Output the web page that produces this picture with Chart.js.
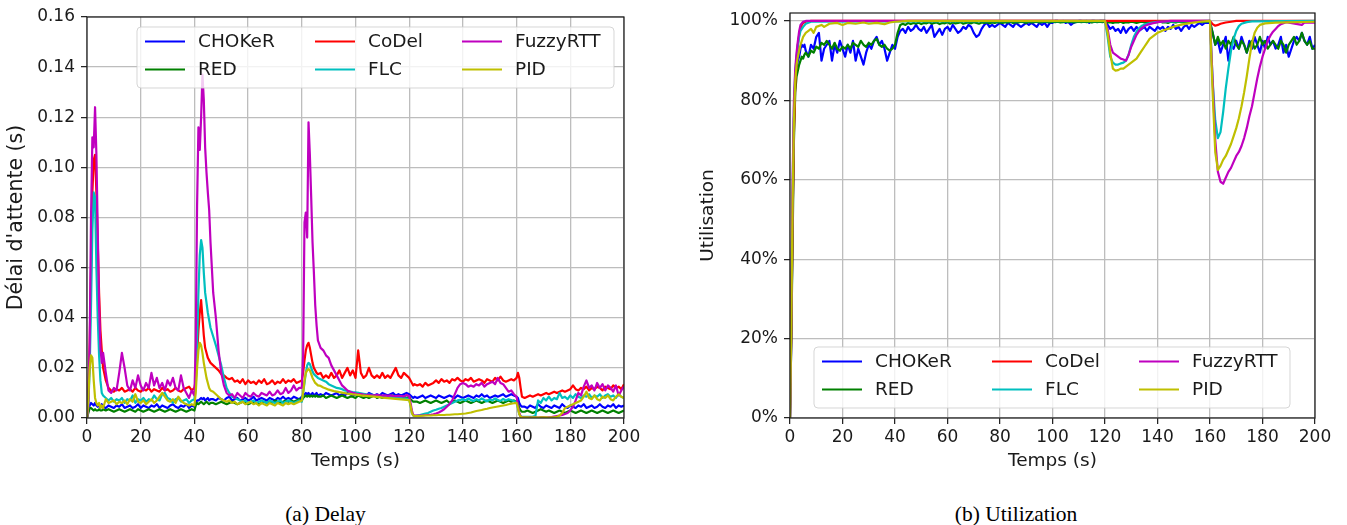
<!DOCTYPE html>
<html><head><meta charset="utf-8">
<script src="https://cdn.jsdelivr.net/npm/chart.js@4.4.0/dist/chart.umd.min.js"></script>
<style>
html,body{margin:0;padding:0;background:#fff;}
#wrap{position:relative;width:1347px;height:525px;overflow:hidden;background:#fff;}
canvas{position:absolute;}
#c1{left:0;top:0;} #c2{left:690px;top:-10px;}
.cap{position:absolute;top:504px;font-family:'Liberation Serif','Times New Roman',serif;font-size:21.5px;line-height:21px;color:#000;white-space:nowrap;text-align:center;width:300px;}
</style></head><body>
<div id="wrap">
<canvas id="c1" width="680" height="480"></canvas>
<canvas id="c2" width="657" height="490"></canvas>
<div class="cap" style="left:175.5px">(a) Delay</div>
<div class="cap" style="left:866px">(b) Utilization</div>
</div>
<script>
// ---------- shared ----------
const seriesNames = ['CHOKeR','RED','CoDel','FLC','FuzzyRTT','PID'];
const seriesColors = ['#0000ff','#008000','#ff0000','#00bfbf','#bf00bf','#bfbf00'];
const xTicks = [0,20,40,60,80,100,120,140,160,180,200];
const xTickLabels = ['0','20','40','60','80','100','120','140','160','180','200'];
const delayYTicks = [0,0.02,0.04,0.06,0.08,0.10,0.12,0.14,0.16];
const delayYLabels = ['0.00','0.02','0.04','0.06','0.08','0.10','0.12','0.14','0.16'];
const utilYTicks = [0,20,40,60,80,100];
const utilYLabels = ['0%','20%','40%','60%','80%','100%'];

// ---------- delay (s) ----------
const tDelay = [0,0.5,1,1.5,2,2.5,3,3.5,4,4.5,5,5.5,6,
7,8,9,10,11,12,13,14,15,16,17,18,19,20,21,22,23,24,25,26,27,28,29,30,31,32,33,34,35,36,37,38,39,40,
40.5,41,41.5,42,42.5,43,43.5,44,44.5,45,45.5,46,
47,48,49,50,51,52,53,54,55,56,57,58,59,60,61,62,63,64,65,66,67,68,69,70,71,72,73,74,75,76,77,78,79,80,
80.5,81,81.5,82,82.5,83,83.5,84,84.5,85,85.5,86,
87,88,89,90,91,92,93,94,95,96,97,98,99,100,101,102,103,104,105,106,107,108,109,110,111,112,113,114,115,116,117,118,119,120,
120.5,121,121.5,122,
123,124,125,126,127,128,129,130,131,132,133,134,135,136,137,138,139,140,141,142,143,144,145,146,147,148,149,150,151,152,153,154,155,156,157,158,159,160,
160.5,161,161.5,162,
163,164,165,166,167,168,169,170,171,172,173,174,175,176,177,178,179,180,181,182,183,184,185,186,187,188,189,190,191,192,193,194,195,196,197,198,199,200];

const delayCHOKeR = [0,0.003,0.005,0.006,0.0055,0.005,0.006,0.005,0.0045,0.005,0.004,0.0055,0.0045,
0.004,0.005,0.0045,0.004,0.005,0.0045,0.0055,0.004,0.0045,0.005,0.004,0.0045,0.0055,0.004,0.005,0.0045,0.004,0.005,0.0045,0.0055,0.004,0.005,0.0045,0.004,0.005,0.0055,0.0045,0.004,0.005,0.0045,0.0055,0.004,0.005,0.0045,
0.006,0.007,0.007,0.0075,0.008,0.0075,0.008,0.007,0.0075,0.008,0.007,0.0075,
0.0075,0.007,0.008,0.0075,0.007,0.008,0.0085,0.007,0.0075,0.008,0.007,0.0075,0.008,0.007,0.0075,0.0085,0.007,0.0075,0.008,0.0075,0.007,0.008,0.0075,0.007,0.008,0.0075,0.0085,0.0075,0.008,0.0075,0.0085,0.008,0.0075,0.0085,
0.009,0.0095,0.01,0.0095,0.01,0.009,0.0095,0.01,0.009,0.0095,0.01,0.009,
0.0095,0.009,0.01,0.0095,0.009,0.0095,0.01,0.009,0.0095,0.009,0.01,0.0095,0.009,0.0095,0.01,0.009,0.0095,0.009,0.01,0.0095,0.009,0.0095,0.009,0.01,0.0095,0.009,0.0095,0.01,0.009,0.0095,0.009,0.0095,0.01,0.0095,
0.009,0.0085,0.008,0.0085,
0.008,0.0085,0.009,0.008,0.0085,0.009,0.0085,0.008,0.009,0.0085,0.008,0.0085,0.009,0.0085,0.008,0.009,0.0085,0.008,0.0085,0.009,0.0085,0.008,0.009,0.0085,0.0095,0.0085,0.009,0.008,0.0085,0.009,0.0085,0.009,0.0095,0.0085,0.009,0.0095,0.009,0.0085,
0.008,0.006,0.005,0.0045,
0.0045,0.004,0.005,0.0045,0.004,0.0055,0.0045,0.004,0.005,0.0045,0.004,0.005,0.0045,0.004,0.0055,0.0045,0.004,0.005,0.0045,0.004,0.005,0.0045,0.0055,0.004,0.0045,0.005,0.004,0.0045,0.0055,0.0045,0.004,0.005,0.0045,0.0055,0.004,0.005,0.0045,0.005];

const delayRED = [0,0.002,0.004,0.004,0.0035,0.003,0.0035,0.003,0.003,0.0035,0.003,0.003,0.0035,
0.003,0.0035,0.003,0.0025,0.003,0.0035,0.003,0.0025,0.003,0.0035,0.003,0.0025,0.0035,0.003,0.0025,0.003,0.0035,0.003,0.0025,0.003,0.0035,0.003,0.0025,0.003,0.0035,0.003,0.0025,0.003,0.0035,0.003,0.0025,0.003,0.0035,0.003,
0.005,0.006,0.0055,0.006,0.0065,0.006,0.0055,0.006,0.0065,0.006,0.0055,0.006,
0.006,0.0055,0.006,0.0065,0.006,0.0055,0.006,0.0065,0.006,0.0055,0.006,0.0065,0.006,0.0055,0.006,0.0065,0.006,0.0055,0.006,0.0065,0.006,0.0065,0.006,0.007,0.0065,0.006,0.0065,0.007,0.0065,0.007,0.0065,0.007,0.0075,0.007,
0.008,0.0085,0.009,0.0085,0.009,0.0085,0.009,0.0085,0.009,0.0085,0.009,0.0085,
0.0085,0.009,0.008,0.0085,0.009,0.0085,0.008,0.0085,0.009,0.0085,0.008,0.0085,0.0085,0.008,0.009,0.0085,0.008,0.0085,0.008,0.0085,0.009,0.008,0.0085,0.008,0.0085,0.008,0.0085,0.009,0.008,0.0085,0.008,0.0085,0.008,0.0085,
0.0075,0.007,0.0065,0.0065,
0.0065,0.006,0.0065,0.007,0.0065,0.006,0.0065,0.007,0.0065,0.006,0.0065,0.007,0.006,0.0065,0.007,0.0065,0.006,0.0065,0.007,0.0065,0.006,0.0065,0.007,0.0065,0.006,0.0065,0.007,0.0065,0.006,0.0065,0.007,0.0065,0.006,0.0065,0.007,0.0065,0.007,0.0065,
0.006,0.004,0.003,0.0025,
0.0025,0.003,0.0025,0.002,0.0025,0.003,0.0035,0.003,0.0025,0.003,0.0025,0.002,0.0025,0.003,0.0025,0.002,0.0025,0.003,0.0025,0.002,0.0025,0.003,0.0025,0.002,0.0025,0.003,0.0025,0.002,0.0025,0.003,0.0025,0.002,0.0025,0.003,0.0025,0.002,0.0025,0.003];

const delayCoDel = [0,0.008,0.03,0.06,0.09,0.103,0.105,0.09,0.07,0.05,0.035,0.027,0.02,
0.015,0.012,0.011,0.0105,0.0115,0.011,0.012,0.0105,0.011,0.0115,0.0105,0.012,0.011,0.0105,0.0115,0.011,0.012,0.0105,0.0115,0.011,0.0105,0.012,0.011,0.0115,0.0105,0.011,0.012,0.011,0.0105,0.0115,0.012,0.0125,0.011,0.012,
0.015,0.025,0.035,0.042,0.047,0.04,0.033,0.028,0.026,0.024,0.023,0.022,
0.021,0.02,0.019,0.0175,0.017,0.016,0.0155,0.016,0.0145,0.015,0.014,0.0155,0.0135,0.015,0.014,0.0145,0.0135,0.015,0.014,0.0155,0.0135,0.014,0.015,0.0135,0.0145,0.014,0.0155,0.014,0.015,0.0145,0.0155,0.014,0.0145,0.015,
0.018,0.023,0.027,0.029,0.03,0.028,0.025,0.022,0.02,0.019,0.018,0.0175,
0.018,0.016,0.017,0.016,0.018,0.016,0.017,0.019,0.016,0.018,0.02,0.017,0.019,0.016,0.027,0.018,0.016,0.017,0.02,0.017,0.016,0.017,0.016,0.018,0.016,0.017,0.016,0.018,0.02,0.017,0.016,0.018,0.017,0.016,
0.015,0.014,0.013,0.0135,
0.013,0.0135,0.0125,0.014,0.013,0.0135,0.014,0.015,0.014,0.0155,0.0145,0.015,0.014,0.0155,0.015,0.016,0.015,0.0145,0.0155,0.015,0.016,0.0145,0.015,0.0155,0.015,0.014,0.0155,0.015,0.0145,0.016,0.015,0.0165,0.015,0.0145,0.015,0.0155,0.015,0.016,
0.018,0.016,0.012,0.0085,
0.008,0.0085,0.009,0.0085,0.009,0.0095,0.009,0.0095,0.01,0.0095,0.01,0.0105,0.01,0.0105,0.011,0.0105,0.011,0.0115,0.013,0.0115,0.011,0.012,0.0115,0.0125,0.011,0.012,0.0115,0.0125,0.012,0.011,0.0125,0.012,0.0115,0.013,0.012,0.0125,0.0115,0.0135];

const delayFLC = [0,0.005,0.02,0.045,0.075,0.09,0.088,0.06,0.04,0.025,0.015,0.01,0.009,
0.008,0.007,0.008,0.0065,0.0075,0.007,0.008,0.006,0.0075,0.007,0.009,0.006,0.0075,0.007,0.008,0.0065,0.0075,0.007,0.009,0.0075,0.007,0.0095,0.01,0.008,0.0075,0.006,0.0075,0.008,0.0065,0.007,0.0075,0.006,0.007,0.0075,
0.012,0.03,0.05,0.065,0.071,0.068,0.058,0.05,0.046,0.042,0.039,0.036,
0.0325,0.029,0.025,0.021,0.016,0.012,0.01,0.0085,0.008,0.0075,0.007,0.0065,0.007,0.006,0.0065,0.007,0.006,0.0065,0.007,0.0065,0.006,0.007,0.0065,0.006,0.0065,0.007,0.006,0.0065,0.007,0.0065,0.006,0.0065,0.007,0.0065,
0.01,0.014,0.018,0.021,0.022,0.0215,0.02,0.0185,0.0175,0.017,0.0165,0.016,
0.0155,0.015,0.0145,0.0135,0.013,0.0125,0.012,0.0118,0.0115,0.011,0.0108,0.0105,0.0103,0.0102,0.01,0.0098,0.0096,0.0094,0.0093,0.0092,0.009,0.0089,0.0088,0.0087,0.0086,0.0085,0.0084,0.0082,0.0081,0.008,0.0079,0.0078,0.0077,0.0076,
0.005,0.002,0.001,0.0008,
0.001,0.0012,0.0015,0.0018,0.002,0.0025,0.003,0.0033,0.0037,0.004,0.0045,0.005,0.0055,0.006,0.0065,0.007,0.0072,0.0075,0.007,0.0078,0.0072,0.0068,0.0075,0.007,0.0078,0.0072,0.0066,0.0074,0.007,0.0078,0.0072,0.0068,0.0076,0.007,0.0075,0.0072,0.0068,0.0065,
0.004,0.0015,0.0007,0.0005,
0.0005,0.0005,0.0005,0.0006,0.0008,0.007,0.006,0.008,0.007,0.0085,0.007,0.008,0.0075,0.01,0.008,0.0085,0.0075,0.009,0.008,0.0095,0.0085,0.008,0.009,0.0085,0.0095,0.008,0.009,0.0085,0.0095,0.008,0.009,0.0095,0.0085,0.009,0.008,0.0095,0.0085,0.008];

const delayFuzzyRTT = [0,0.005,0.03,0.08,0.112,0.108,0.124,0.105,0.075,0.045,0.028,0.022,0.026,
0.018,0.011,0.01,0.012,0.011,0.018,0.026,0.02,0.013,0.011,0.015,0.012,0.017,0.013,0.011,0.014,0.012,0.018,0.013,0.016,0.012,0.014,0.011,0.015,0.013,0.016,0.012,0.011,0.017,0.012,0.01,0.008,0.011,0.009,
0.03,0.085,0.116,0.107,0.12,0.137,0.127,0.108,0.098,0.09,0.083,0.07,
0.05,0.04,0.027,0.018,0.013,0.01,0.009,0.0095,0.008,0.01,0.009,0.008,0.01,0.009,0.0085,0.01,0.009,0.0085,0.01,0.0095,0.009,0.0105,0.009,0.0095,0.011,0.0095,0.01,0.012,0.01,0.011,0.013,0.011,0.012,0.012,
0.025,0.078,0.082,0.072,0.118,0.105,0.088,0.07,0.058,0.045,0.037,0.031,
0.028,0.027,0.025,0.024,0.021,0.019,0.017,0.015,0.013,0.012,0.011,0.0105,0.01,0.0098,0.0095,0.0095,0.0093,0.0092,0.0092,0.009,0.009,0.0092,0.009,0.0089,0.009,0.0088,0.009,0.0088,0.0087,0.0088,0.0087,0.0086,0.0092,0.0088,
0.006,0.003,0.0012,0.001,
0.001,0.001,0.001,0.0011,0.0012,0.0013,0.0015,0.0018,0.0022,0.0028,0.0035,0.0045,0.0055,0.007,0.0095,0.012,0.0135,0.014,0.0135,0.0125,0.013,0.0125,0.0135,0.013,0.014,0.0125,0.0135,0.014,0.0145,0.0135,0.016,0.014,0.0135,0.012,0.0105,0.011,0.0095,0.0085,
0.005,0.002,0.0006,0.0003,
0.0003,0.0002,0.0003,0.0002,0.0003,0.0002,0.0003,0.0003,0.0002,0.0003,0.0004,0.0006,0.0008,0.001,0.0012,0.0016,0.002,0.003,0.0045,0.007,0.01,0.009,0.0125,0.015,0.012,0.013,0.011,0.014,0.012,0.0135,0.011,0.013,0.012,0.0105,0.013,0.009,0.011,0.0125];

const delayPID = [0,0.008,0.02,0.025,0.024,0.015,0.008,0.006,0.005,0.006,0.004,0.005,0.004,
0.0075,0.006,0.0065,0.007,0.0055,0.0065,0.006,0.007,0.0055,0.0075,0.0065,0.0095,0.0065,0.006,0.007,0.0055,0.0065,0.0075,0.006,0.007,0.0085,0.01,0.0085,0.007,0.0065,0.0075,0.006,0.0085,0.007,0.006,0.0055,0.005,0.0055,0.005,
0.01,0.02,0.027,0.03,0.029,0.026,0.022,0.019,0.016,0.014,0.012,0.011,
0.0105,0.0095,0.0085,0.0075,0.007,0.0065,0.007,0.006,0.0065,0.0055,0.006,0.0065,0.0055,0.006,0.0065,0.0055,0.006,0.005,0.006,0.0055,0.005,0.006,0.0055,0.005,0.006,0.0055,0.005,0.006,0.0055,0.006,0.0055,0.006,0.0065,0.007,
0.01,0.015,0.018,0.019,0.0195,0.019,0.0175,0.016,0.015,0.014,0.0135,0.013,
0.0128,0.0122,0.0118,0.0113,0.011,0.0107,0.0105,0.0103,0.0101,0.0099,0.0097,0.0096,0.0094,0.0093,0.0092,0.009,0.0089,0.0088,0.0087,0.0086,0.0085,0.0084,0.0083,0.0081,0.008,0.0079,0.0078,0.0077,0.0076,0.0075,0.0074,0.0073,0.0072,0.0071,
0.005,0.002,0.001,0.0008,
0.0008,0.0008,0.0009,0.001,0.001,0.001,0.0011,0.0011,0.0012,0.0012,0.0012,0.0013,0.0013,0.0014,0.0015,0.0015,0.0016,0.0017,0.0018,0.002,0.0022,0.0025,0.0028,0.003,0.0032,0.0035,0.0037,0.004,0.0042,0.0044,0.0046,0.0048,0.005,0.0052,0.0055,0.0057,0.0059,0.006,
0.004,0.0015,0.0005,0.0003,
0.0003,0.0003,0.0002,0.0003,0.0003,0.0002,0.0003,0.0003,0.0003,0.0002,0.0003,0.0003,0.0005,0.001,0.002,0.004,0.0045,0.005,0.0055,0.006,0.0065,0.007,0.0085,0.0105,0.008,0.0075,0.009,0.0075,0.007,0.0085,0.008,0.009,0.0075,0.007,0.0085,0.0095,0.0085,0.008];

// ---------- utilization (%) ----------
const tUtil = [0,0.5,1,1.5,2,2.5,3,3.5,4,4.5,5,5.5,6,
7,8,9,10,11,12,13,14,15,16,17,18,19,20,21,22,23,24,25,26,27,28,29,30,31,32,33,34,35,36,37,38,39,40,
41,42,43,44,45,46,47,48,49,50,51,52,53,54,55,56,57,58,59,60,61,62,63,64,65,66,67,68,69,70,71,72,73,74,75,76,77,78,79,80,
81,82,83,84,85,86,87,88,89,90,91,92,93,94,95,96,97,98,99,100,101,102,103,104,105,106,107,108,109,110,111,112,113,114,115,116,117,118,119,120,
121,122,123,124,125,126,127,128,129,130,131,132,133,134,135,136,137,138,139,140,141,142,143,144,145,146,147,148,149,150,151,152,153,154,155,156,157,158,159,160,
161,162,163,164,165,166,167,168,169,170,171,172,173,174,175,176,177,178,179,180,181,182,183,184,185,186,187,188,189,190,191,192,193,194,195,196,197,198,199,200];

const utilCHOKeR = [0,20,50,75,85,88,90,91,93,94,93.5,94,92.5,
91,94,93,96,97,90,93,94,95,90,94,92,95,93,91,94,92,95,90,93,91,89,92,94,93,95,96,94,95,93,90,92,94,93,
96,97.5,98,97,98.5,97.5,98,99,98,97.5,98.5,97,98,99,96,97,98,96.5,98,98.5,97.5,99,98,97,97.5,98.5,98,99,98.5,97,96,96.5,98,99,99.5,98.5,99,98.5,99,99.5,
99,98.5,99.5,99,98.5,99.5,99,98.5,99,99.5,99,99.5,99,98.5,99.5,99,99.5,98.5,99.5,99.5,100,100,99.8,100,99.5,99.8,99,99.5,99.8,100,100,99.8,100,99.5,100,100,99.8,100,100,100,
99,98,98.5,97.5,98,97,98.5,97,98,98.5,97.5,98.5,97.5,98,98.5,97.5,98.5,98,97.5,98.5,98,98.5,97.5,98.5,98,99,98,98.5,97.5,98.5,99,98,99,98.5,99,99.5,99,99.5,99.5,99.5,
97,94,95,92,94,96,90,94,93,95,93,96,94,92,95,93,96,94,92,95,93,96,94,95,93,94,96,92,94,91,93,95,96,95,97,95,94,96,93,94];

const utilRED = [0,20,45,70,82,86,87.5,89,90,91,90.5,91.5,92,
91,92.5,92,93.5,93,94.5,94,95,94,93,94.5,93,92.5,93.5,93,94,93,94.5,94,93.5,95,94,93.5,94.5,94,95,95.5,94,93.5,94,93,92.5,93,94,
97,99,99.3,99,99.5,99.2,99.5,99.3,99.6,99.2,99.5,99.4,99.7,99.3,99.5,99.6,99.2,99.5,99.4,99.7,99.3,99.6,99.4,99.5,99.7,99.3,99.5,99.6,99.4,99.7,99.5,99.3,99.6,99.5,99.7,99.4,99.6,99.5,99.7,99.6,
99.5,99.7,99.6,99.8,99.5,99.7,99.6,99.8,99.7,99.5,99.8,99.6,99.7,99.8,99.6,99.7,99.8,99.7,99.6,99.8,99.7,99.8,99.6,99.7,99.8,99.7,99.8,99.6,99.7,99.8,99.7,99.8,99.7,99.8,99.6,99.8,99.7,99.8,99.7,99.8,
99.6,99.7,99.5,99.7,99.6,99.8,99.5,99.7,99.6,99.8,99.7,99.5,99.7,99.8,99.6,99.7,99.5,99.8,99.6,99.7,99.8,99.6,99.7,99.5,99.8,99.7,99.6,99.8,99.7,99.6,99.8,99.7,99.6,99.8,99.7,99.8,99.7,99.8,99.8,99.8,
97,94,96,94,95,93,95,94,96,94,93,95,94,92,94,95,93,94,96,94,95,93,94,95,94,93,95,94,92,94,95,96,94,95,97,95,94,95,93,93];

const tUtilCoDel = [0,0.5,1,1.5,2,2.5,3,3.5,4,4.5,5,6,8,160,161,162,163,164,166,168,170,200];
const utilCoDel  = [0,22,50,72,84,90,94,96.5,98,99,99.5,99.8,100,100,99.2,98.8,99,99.3,99.6,99.8,100,100];

const tUtilFLC = [0,0.5,1,1.5,2,2.5,3,3.5,4,5,6,8,120,121,122,123,124,125,126,127,128,129,130,131,132,133,134,136,138,140,160,161,162,163,164,165,166,167,168,169,170,171,172,174,176,200];
const utilFLC  = [0,28,58,78,87,91,94,96,97.5,98.5,99.3,99.8,100,96,91,89.5,89,89,89.3,89.5,90,91.5,94,96,97.3,98.2,98.8,99.3,99.6,99.8,100,85,75,70.5,72,77,83,88,92.5,95.5,97.5,98.7,99.3,99.7,99.9,100];

const tUtilFuzzyRTT = [0,0.5,1,1.5,2,2.5,3,3.5,4,5,6,120,121,122,123,124,125,126,127,128,129,130,131,132,133,134,135,136,138,140,145,160,161,162,163,164,165,166,167,168,169,170,171,172,173,174,175,176,177,178,179,180,181,182,183,184,185,186,187,189,195,196,200];
const utilFuzzyRTT  = [0,30,60,80,88,92,95,97.5,99,99.8,100,100,98,94,92,91.5,91,90.5,90.3,90,91.5,93.5,95,96.5,97.5,98.2,98.7,99,99.4,99.7,100,100,85,70,62,59.5,59,60.5,62,63,64.5,66,67,68.5,70.5,73,76,78.5,82,85.5,88.5,91,93,95,96.3,97.3,98,98.7,99.2,99.7,99,99.6,99.6];

const tUtilPID = [0,0.5,1,1.5,2,2.5,3,3.5,4,4.5,5,5.5,6,7,8,9,10,12,13,15,18,20,22,25,28,30,33,36,38,40,45,120,121,122,123,124,125,126,127,128,129,130,131,132,133,134,135,136,137,138,139,140,141,142,144,146,148,150,153,156,160,161,162,163,164,165,166,167,168,169,170,171,172,173,174,175,176,177,178,179,181,185,200];
const utilPID  = [0,25,55,75,85,89,91,92.5,94,95,96,96.5,97,97.5,98,97,98.5,99,98.5,99.3,99.5,99,99.5,99.3,99.6,99.3,99.5,99.2,99.6,99.8,100,100,97,92,88,87.5,87.6,88,88,88.5,89,89.5,90,90.5,91.5,92.5,93.5,94.5,95.5,96,96.5,97,97.3,97.6,98,98.5,98.9,99.2,99.5,99.8,100,82,67,62.5,63.5,65,66,67.5,69,71,73,75.5,78.5,82,86,90.5,94.5,97,98.3,99,99.4,99.6,99.8];

// ---------- build ----------
const FONT = "'DejaVu Sans', sans-serif";
const delaySeries = [
  {t:tDelay, v:delayCHOKeR}, {t:tDelay, v:delayRED}, {t:tDelay, v:delayCoDel},
  {t:tDelay, v:delayFLC}, {t:tDelay, v:delayFuzzyRTT}, {t:tDelay, v:delayPID}];
const utilSeries = [
  {t:tUtil, v:utilCHOKeR}, {t:tUtil, v:utilRED}, {t:tUtilCoDel, v:utilCoDel},
  {t:tUtilFLC, v:utilFLC}, {t:tUtilFuzzyRTT, v:utilFuzzyRTT}, {t:tUtilPID, v:utilPID}];

function datasets(list) {
  return list.map((s,i)=>({
    label: seriesNames[i],
    data: s.t.map((t,j)=>({x:t, y:s.v[j]})),
    borderColor: seriesColors[i],
    backgroundColor: seriesColors[i],
    borderWidth: 2.2,
    pointRadius: 0,
    tension: 0,
    fill: false,
    borderJoinStyle: 'round',
    order: list.length - i
  }));
}

const frame = {
  id: 'frame',
  afterDatasetsDraw(chart) {
    const {ctx, chartArea: a} = chart;
    ctx.save();
    ctx.strokeStyle = '#1a1a1a';
    ctx.lineWidth = 1.2;
    ctx.strokeRect(a.left, a.top, a.right - a.left, a.bottom - a.top);
    ctx.restore();
  }
};

// legend in the matplotlib layout: 3 columns x 2 rows, filled column-wise
const legendColumns = [[0,1],[2,3],[4,5]];
const boxLegend = {
  id: 'boxLegend',
  afterDraw(chart, args, o) {
    const {ctx, chartArea: a} = chart;
    const x0 = a.left + o.left, x1 = a.right - o.right, h = 61;
    const y0 = (o.top !== undefined) ? a.top + o.top : a.bottom - o.bottom - h;
    const r = 4;
    ctx.save();
    ctx.beginPath();
    ctx.moveTo(x0 + r, y0);
    ctx.lineTo(x1 - r, y0); ctx.quadraticCurveTo(x1, y0, x1, y0 + r);
    ctx.lineTo(x1, y0 + h - r); ctx.quadraticCurveTo(x1, y0 + h, x1 - r, y0 + h);
    ctx.lineTo(x0 + r, y0 + h); ctx.quadraticCurveTo(x0, y0 + h, x0, y0 + h - r);
    ctx.lineTo(x0, y0 + r); ctx.quadraticCurveTo(x0, y0, x0 + r, y0);
    ctx.closePath();
    ctx.fillStyle = 'rgba(255,255,255,0.8)';
    ctx.fill();
    ctx.strokeStyle = 'rgba(204,204,204,0.8)';
    ctx.lineWidth = 1;
    ctx.stroke();
    const colX = [8, 178, 325];
    const rowY = [14.5, 42.5];
    ctx.font = "18.5px 'DejaVu Sans'";
    ctx.textBaseline = 'middle';
    legendColumns.forEach((col, c) => col.forEach((idx, rI) => {
      const lx = x0 + colX[c], ly = y0 + rowY[rI];
      ctx.beginPath();
      ctx.strokeStyle = seriesColors[idx];
      ctx.lineWidth = 2.2;
      ctx.moveTo(lx, ly); ctx.lineTo(lx + 40, ly);
      ctx.stroke();
      ctx.fillStyle = '#1a1a1a';
      ctx.fillText(seriesNames[idx], lx + 53, ly + 1);
    }));
    ctx.restore();
  }
};

function makeChart(canvas, list, cfg) {
  return new Chart(canvas, {
    type: 'line',
    data: { datasets: datasets(list) },
    plugins: [frame, boxLegend],
    options: {
      responsive: false, animation: false, devicePixelRatio: 1, events: [],
      layout: { padding: cfg.padding },
      plugins: { legend: {display:false}, tooltip: {enabled:false}, boxLegend: cfg.legend },
      scales: {
        x: {
          type: 'linear', min: 0, max: 200,
          afterBuildTicks: s => { s.ticks = xTicks.map(v => ({value: v})); },
          afterFit: s => { s.height = cfg.xHeight; },
          ticks: { font: {family: FONT, size: 17}, color: '#1a1a1a', padding: 3, maxRotation: 0, autoSkip: false,
                   callback: (v, i) => xTickLabels[i] },
          grid: { color: '#bdbdbd', lineWidth: 1.3, tickLength: 6, tickColor: '#1a1a1a', tickWidth: 1.2 },
          border: { display: false },
          title: { display: true, text: 'Temps (s)', color: '#1a1a1a', font: {family: FONT, size: 18.5}, padding: {top: 0, bottom: 7.4} }
        },
        y: {
          type: 'linear', min: cfg.yMin, max: cfg.yMax,
          afterBuildTicks: s => { s.ticks = cfg.yTicks.map(v => ({value: v})); },
          afterFit: s => { s.width = cfg.yWidth; },
          ticks: { font: {family: FONT, size: 17}, color: '#1a1a1a', padding: 6, autoSkip: false,
                   callback: (v, i) => cfg.yLabels[i] },
          grid: { color: '#bdbdbd', lineWidth: 1.3, tickLength: 6, tickColor: '#1a1a1a', tickWidth: 1.2 },
          border: { display: false },
          title: { display: true, text: cfg.yTitle, color: '#1a1a1a', font: {family: FONT, size: cfg.yTitleSize}, padding: {top: cfg.yTitlePad, bottom: cfg.yTitlePad} }
        }
      }
    }
  });
}

makeChart(document.getElementById('c1'), delaySeries, {
  padding: {left: 0, right: 56, top: 17, bottom: 0},
  xHeight: 62, yWidth: 87, yMin: 0, yMax: 0.16,
  yTicks: delayYTicks, yLabels: delayYLabels, yTitle: "Délai d'attente (s)", yTitleSize: 20.5, yTitlePad: 4.7,
  legend: {left: 50, right: 10, top: 10}
});
makeChart(document.getElementById('c2'), utilSeries, {
  padding: {left: 0, right: 32, top: 23, bottom: 0},
  xHeight: 62, yWidth: 100, yMin: 0, yMax: 102,
  yTicks: utilYTicks, yLabels: utilYLabels, yTitle: 'Utilisation', yTitleSize: 18.5, yTitlePad: 7,
  legend: {left: 24, right: 25, bottom: 10}
});
</script>
</body></html>
